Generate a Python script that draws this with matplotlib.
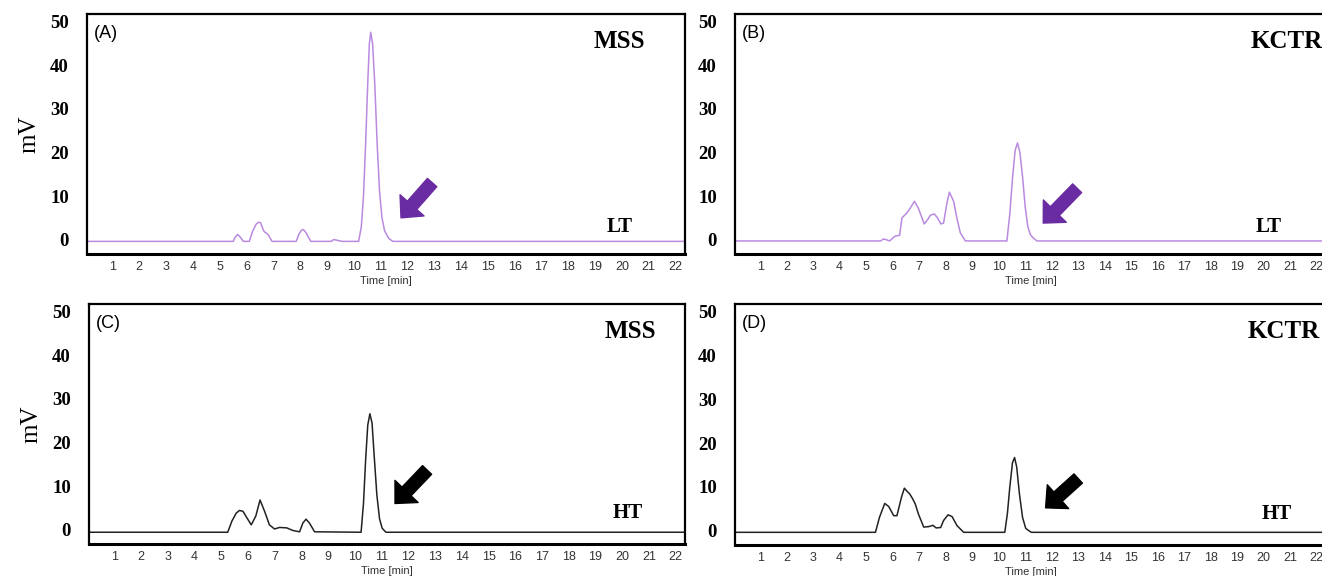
import numpy as np
import matplotlib
matplotlib.use("Agg")
import matplotlib.pyplot as plt

# ----------------------------
# chromatogram traces (time [min], mV)
# ----------------------------
a_time = [0.05, 5.50, 5.58, 5.67, 5.76, 5.88, 6.10, 6.22, 6.35, 6.45, 6.52, 6.60, 6.66, 6.74, 6.82, 6.95,
          7.85, 7.95, 8.05, 8.12, 8.22, 8.30, 8.40, 9.15, 9.25, 9.35, 9.55,
          10.18, 10.28, 10.36, 10.44, 10.52, 10.58, 10.63, 10.70, 10.78, 10.87, 10.96, 11.05, 11.15, 11.30, 11.45, 22.35]
a_mv = [-0.4, -0.4, 0.6, 1.2, 0.6, -0.4, -0.4, 1.8, 3.5, 4.0, 3.9, 2.6, 1.8, 1.5, 1.0, -0.4,
        -0.4, 1.2, 2.2, 2.3, 1.6, 0.6, -0.4, -0.4, 0.0, -0.1, -0.4,
        -0.4, 3.0, 10.0, 22.0, 36.0, 45.0, 47.6, 45.0, 36.0, 22.0, 11.0, 5.0, 2.0, 0.3, -0.4, -0.4]

b_time = [0.05, 5.55, 5.65, 5.75, 5.88, 6.09, 6.26, 6.35, 6.53, 6.66, 6.82, 6.97, 7.19, 7.32, 7.42, 7.57,
          7.69, 7.82, 7.92, 8.05, 8.14, 8.30, 8.42, 8.55, 8.74,
          10.31, 10.42, 10.52, 10.62, 10.71, 10.80, 10.90, 11.00, 11.10, 11.19, 11.30, 11.44, 22.35]
b_mv = [-0.3, -0.3, 0.15, 0.0, -0.3, 0.8, 1.0, 5.0, 6.1, 7.2, 8.8, 7.2, 3.6, 4.6, 5.6, 5.9,
        5.0, 3.6, 3.8, 8.5, 10.9, 8.8, 5.0, 1.6, -0.3,
        -0.3, 6.0, 14.0, 20.5, 22.2, 20.0, 14.5, 7.5, 3.0, 1.2, 0.4, -0.3, -0.3]

c_time = [0.05, 5.24, 5.40, 5.56, 5.68, 5.81, 5.96, 6.12, 6.29, 6.45, 6.62, 6.80, 6.99, 7.18, 7.45, 7.68, 7.93,
          8.05, 8.17, 8.30, 8.49,
          10.23, 10.32, 10.40, 10.48, 10.56, 10.64, 10.72, 10.82, 10.92, 11.02, 11.16, 22.35]
c_mv = [-0.6, -0.6, 2.0, 3.8, 4.4, 4.2, 2.7, 1.1, 3.1, 6.8, 4.2, 1.1, 0.15, 0.5, 0.4, -0.2, -0.5,
        1.5, 2.4, 1.5, -0.5,
        -0.6, 6.0, 16.0, 24.0, 26.6, 24.5, 17.0, 8.0, 2.5, 0.3, -0.6, -0.6]

d_time = [0.05, 5.35, 5.50, 5.70, 5.85, 6.04, 6.16, 6.33, 6.44, 6.54, 6.64, 6.75, 6.85, 6.97, 7.17, 7.36,
          7.52, 7.64, 7.81, 7.92, 8.09, 8.24, 8.43, 8.68,
          10.23, 10.33, 10.42, 10.52, 10.60, 10.68, 10.78, 10.90, 11.02, 11.13, 11.23, 22.35]
d_mv = [-0.4, -0.4, 3.0, 6.2, 5.5, 3.4, 3.4, 7.6, 9.7, 9.0, 8.4, 7.3, 6.1, 3.8, 0.8, 0.9,
        1.2, 0.6, 0.7, 2.3, 3.6, 3.2, 1.1, -0.4,
        -0.4, 4.0, 10.0, 15.5, 16.7, 14.5, 8.5, 3.0, 0.5, 0.0, -0.4, -0.4]

panel_tags = ["(A)", "(B)", "(C)", "(D)"]
sample_names = ["MSS", "KCTR", "MSS", "KCTR"]
temp_names = ["LT", "LT", "HT", "HT"]
x_ticks = list(range(1, 23))
y_ticks = [0, 10, 20, 30, 40, 50]

# arrow tail / tip positions (time, mV)
arrow_tails = [(12.92, 13.1), (12.96, 11.8), (12.70, 13.7), (13.00, 11.9)]
arrow_tips = [(11.76, 5.0), (11.68, 3.8), (11.50, 6.0), (11.77, 5.2)]

purple_line = "#b98ae0"
purple_arrow = "#6a2ca2"

W, H = 1322, 576
fig = plt.figure(figsize=(W / 100, H / 100), dpi=100)

# axes boxes in pixels: left, top, right, bottom
boxes = [(87, 14, 685, 254), (735, 14, 1326, 254), (89, 304, 685, 544), (735, 304, 1326, 545)]
traces = [(a_time, a_mv), (b_time, b_mv), (c_time, c_mv), (d_time, d_mv)]
line_colors = [purple_line, purple_line, "#222222", "#222222"]
arrow_colors = [purple_arrow, purple_arrow, "black", "black"]
# (x of sample name, its alignment, x of temperature label, its y)
name_pos = [(19.9, "center", 19.9, 3.0), (19.5, "left", 20.2, 3.0),
            (20.3, "center", 20.2, 3.8), (19.4, "left", 20.5, 3.8)]

for i, (l, t, r, b) in enumerate(boxes):
    ax = fig.add_axes([l / W, 1 - b / H, (r - l) / W, (b - t) / H])
    x, y = traces[i]
    ax.plot(x, y, color=line_colors[i], linewidth=1.1)
    ax.set_xlim(0.05, 22.35)
    ax.set_ylim(-3.3, 51.8)

    ax.set_xticks(x_ticks)
    ax.set_xticklabels([str(v) for v in x_ticks], fontfamily="Liberation Sans", fontsize=9, color="#333333")
    ax.set_yticks(y_ticks)
    ax.set_yticklabels([str(v) for v in y_ticks], fontfamily="Liberation Serif", fontweight="bold", fontsize=13.5)
    ax.tick_params(axis="x", length=0, pad=5)
    ax.tick_params(axis="y", length=0, pad=13)
    ax.set_xlabel("Time [min]", fontfamily="Liberation Sans", fontsize=8, color="#333333", labelpad=2)
    for s in ax.spines.values():
        s.set_linewidth(1.6)
    ax.spines["bottom"].set_linewidth(2.2)

    ax.text(0.011, 0.955, panel_tags[i], transform=ax.transAxes, ha="left", va="top",
            fontfamily="Liberation Sans", fontsize=13)
    nx, ha, tx, ty = name_pos[i]
    ax.text(nx, 45.5, sample_names[i], ha=ha, va="center",
            fontfamily="Liberation Serif", fontweight="bold", fontsize=18)
    ax.text(tx, ty, temp_names[i], ha="center", va="center",
            fontfamily="Liberation Serif", fontweight="bold", fontsize=15)

    ax.annotate("", xy=arrow_tips[i], xytext=arrow_tails[i],
                arrowprops=dict(arrowstyle="simple,head_length=0.6,head_width=1.15,tail_width=0.45",
                                color=arrow_colors[i], shrinkA=0, shrinkB=0, mutation_scale=20))

    if i % 2 == 0:
        ax.set_ylabel("mV", fontfamily="Liberation Serif", fontsize=18, labelpad=7)

fig.savefig("out.png", dpi=100)
